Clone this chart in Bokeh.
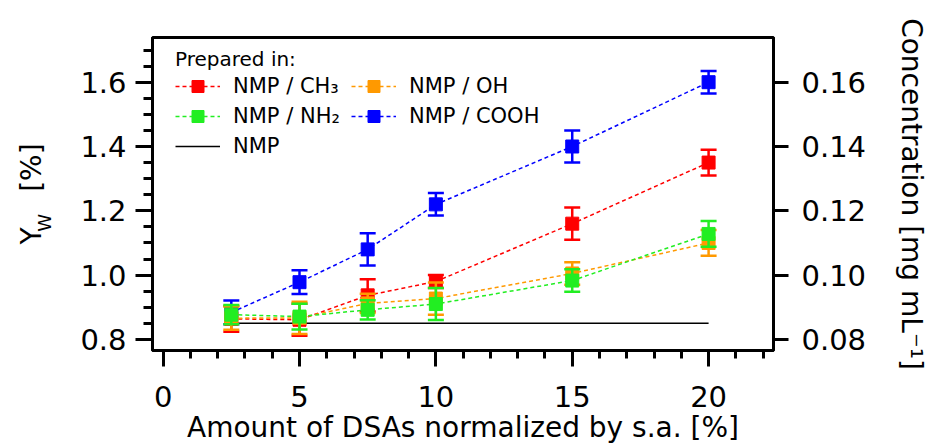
import math
from bokeh.plotting import figure
from bokeh.models import (Range1d, LinearAxis, FixedTicker, Legend, LegendItem,
                          NumeralTickFormatter, CustomJSTickFormatter)
from bokeh.embed import file_html
from bokeh.resources import INLINE

# ---------------- data ----------------
x_vals = [2.5, 5, 7.5, 10, 15, 20]
ch3 = [0.864, 0.861, 0.937, 0.980, 1.160, 1.350]
ch3_err = [0.040, 0.050, 0.050, 0.020, 0.050, 0.040]
oh = [0.866, 0.867, 0.912, 0.927, 1.005, 1.100]
oh_err = [0.036, 0.050, 0.030, 0.050, 0.035, 0.040]
nh2 = [0.877, 0.871, 0.892, 0.910, 0.983, 1.128]
nh2_err = [0.030, 0.040, 0.030, 0.050, 0.035, 0.040]
cooh = [0.884, 0.978, 1.080, 1.220, 1.400, 1.600]
cooh_err = [0.037, 0.037, 0.050, 0.035, 0.050, 0.035]
nmp_x = [2.5, 20]
nmp_y = [0.85, 0.85]

x_major = [0, 5, 10, 15, 20]
x_minor = list(range(0, 23))
y_major = [0.8, 1.0, 1.2, 1.4, 1.6]
y_minor = [0.8 + 0.05 * i for i in range(20)]
conc_major = [0.08, 0.10, 0.12, 0.14, 0.16]

FONT = "DejaVu Sans"
RED, ORANGE, GREEN, BLUE = "#ff0000", "#ff9900", "#22ee22", "#0000ff"
NB = "\u00a0"

p = figure(width=936, height=446, output_backend="svg", toolbar_location=None,
           x_range=Range1d(-0.39, 22.38), y_range=Range1d(0.7655, 1.739),
           min_border_left=152, min_border_right=163, min_border_top=37,
           min_border_bottom=96)
p.extra_y_ranges = {"conc": Range1d(0.07655, 0.1739)}
p.grid.visible = False
p.outline_line_color = "black"
p.outline_line_width = 3
p.outline_line_alpha = 1.0


def style_axis(ax, tick_out, minor_out):
    ax.axis_line_width = 3
    ax.major_tick_line_width = 3
    ax.minor_tick_line_width = 3
    ax.major_tick_in = 0
    ax.minor_tick_in = 0
    ax.major_tick_out = tick_out
    ax.minor_tick_out = minor_out
    ax.major_label_text_font = FONT
    ax.major_label_text_font_size = "29px"
    ax.major_label_text_color = "black"
    ax.axis_label_text_font = FONT
    ax.axis_label_text_font_style = "normal"
    ax.axis_label_text_color = "black"


xa = p.xaxis[0]
xa.ticker = FixedTicker(ticks=x_major, minor_ticks=x_minor)
xa.formatter = NumeralTickFormatter(format="0")
style_axis(xa, 16, 8)
xa.major_label_standoff = 19
xa.axis_label = "Amount of DSAs normalized by s.a. [%]"
xa.axis_label_text_font_size = "28px"
xa.axis_label_standoff = 1

ya = p.yaxis[0]
ya.ticker = FixedTicker(ticks=y_major, minor_ticks=y_minor)
ya.formatter = NumeralTickFormatter(format="0.0")
style_axis(ya, 17, 9)
ya.major_label_standoff = 9

# second (label-only) left axis: carries the subscript "W" and the "Y [%]" title
wa = LinearAxis(ticker=FixedTicker(ticks=[1.19], minor_ticks=[]),
                formatter=CustomJSTickFormatter(code="return 'W'"))
wa.axis_line_alpha = 0
wa.major_tick_line_alpha = 0
wa.major_tick_in = 0
wa.major_tick_out = 0
wa.minor_tick_in = 0
wa.minor_tick_out = 0
wa.major_label_orientation = math.pi / 2
wa.major_label_text_font = FONT
wa.major_label_text_font_size = "18px"
wa.major_label_text_color = "black"
wa.major_label_standoff = 33
wa.axis_label = "Y" + NB * 4 + "[%]"
wa.axis_label_text_font = FONT
wa.axis_label_text_font_size = "28px"
wa.axis_label_text_font_style = "normal"
wa.axis_label_text_color = "black"
wa.axis_label_standoff = -27
p.add_layout(wa, "left")

ra = LinearAxis(y_range_name="conc")
ra.ticker = FixedTicker(ticks=conc_major, minor_ticks=[])
ra.formatter = NumeralTickFormatter(format="0.00")
style_axis(ra, 15, 0)
ra.major_label_standoff = 13
ra.axis_label = "Concentration [mg mL⁻¹]"
ra.axis_label_text_font_size = "28px"
ra.axis_label_standoff = 26
p.add_layout(ra, "right")


def series(y, err, color):
    lo = [a - b for a, b in zip(y, err)]
    hi = [a + b for a, b in zip(y, err)]
    ln = p.line(x_vals, y, line_color=color, line_width=1.5, line_dash="4 3")
    p.segment(x_vals, lo, x_vals, hi, line_color=color, line_width=2.5)
    p.scatter(x_vals, lo, marker="dash", size=16, line_color=color, line_width=2.5)
    p.scatter(x_vals, hi, marker="dash", size=16, line_color=color, line_width=2.5)
    sc = p.scatter(x_vals, y, marker="square", size=13, fill_color=color,
                   line_color=color)
    return ln, sc


nmp_line = p.line(nmp_x, nmp_y, line_color="black", line_width=1.5)
b_l, b_s = series(cooh, cooh_err, BLUE)
r_l, r_s = series(ch3, ch3_err, RED)
o_l, o_s = series(oh, oh_err, ORANGE)
g_l, g_s = series(nh2, nh2_err, GREEN)

legend = Legend(items=[
    LegendItem(label="NMP / CH₃", renderers=[r_l, r_s]),
    LegendItem(label="NMP / NH₂", renderers=[g_l, g_s]),
    LegendItem(label="NMP", renderers=[nmp_line]),
    LegendItem(label="NMP / OH", renderers=[o_l, o_s]),
    LegendItem(label="NMP / COOH", renderers=[b_l, b_s]),
], location=(13, 179), orientation="vertical", nrows=3)
legend.title = "Prepared in:"
legend.title_text_font = FONT
legend.title_text_font_size = "20px"
legend.title_text_font_style = "normal"
legend.title_text_color = "black"
legend.title_standoff = 0
legend.label_text_font = FONT
legend.label_text_font_size = "21px"
legend.label_text_color = "black"
legend.glyph_width = 45
legend.glyph_height = 30
legend.label_height = 28
legend.label_width = 118
legend.spacing = 0
legend.label_standoff = 13
legend.padding = 10
legend.margin = 0
legend.border_line_alpha = 0
legend.background_fill_alpha = 0
p.add_layout(legend)

open("out.html", "w").write(file_html(p, INLINE))
